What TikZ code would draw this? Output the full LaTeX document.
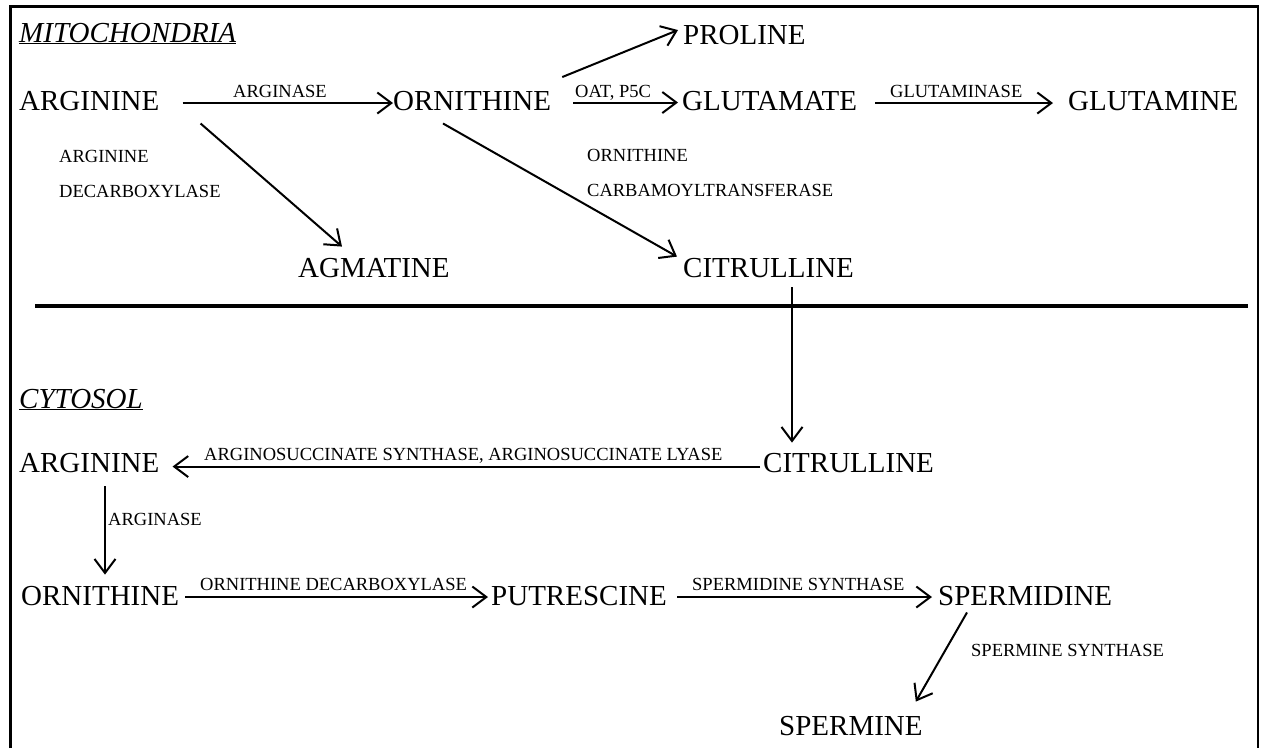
\documentclass[tikz,border=0pt]{standalone}
\usepackage{fontspec}
\setmainfont{Liberation Serif}
\usetikzlibrary{arrows.meta,calc}
\newcommand{\metfont}{\fontsize{29}{35}\selectfont}
\newcommand{\enzfont}{\fontsize{18.5}{35}\selectfont}
\newcommand{\metabolite}[4]{\node[met] (#1) at (#2,#3) {#4};}
\newcommand{\enzyme}[4]{\node[enz] (#1) at (#2,#3) {#4};}
\tikzset{
  met/.style={inner sep=0pt, anchor=base west, font=\metfont},
  enz/.style={inner sep=0pt, anchor=base west, font=\enzfont, align=left},
  rxn/.style={line width=2pt, -{Straight Barb[length=14pt,width=21pt,line width=2pt]}}
}
\begin{document}
\begin{tikzpicture}[x=1pt,y=-1pt]
\useasboundingbox (0,0) rectangle (1262,748);
% frame and divider
\draw[line width=3.5pt] (10.5,748)--(10.5,6.5)--(1259,6.5);
\draw[line width=2pt] (1258,6.5)--(1258,748);
\draw[line width=4pt] (35,306)--(1248,306);
% compartments
\node[met, font=\metfont\itshape] (mito) at (19,42) {\underline{MITOCHONDRIA}};
\node[met, font=\metfont\itshape] (cyto) at (19,408) {\underline{CYTOSOL}};
% mitochondria
\metabolite{argM}{19}{110}{ARGININE}
\metabolite{ornM}{393}{110}{ORNITHINE}
\metabolite{proM}{683}{44}{PROLINE}
\metabolite{gluM}{682}{110}{GLUTAMATE}
\metabolite{glnM}{1068}{110}{GLUTAMINE}
\metabolite{agmM}{298}{277}{AGMATINE}
\metabolite{citM}{683}{277}{CITRULLINE}
% cytosol
\metabolite{citC}{763}{472}{CITRULLINE}
\metabolite{argC}{19}{472}{ARGININE}
\metabolite{ornC}{21}{605}{ORNITHINE}
\metabolite{putC}{491}{605}{PUTRESCINE}
\metabolite{spdC}{938}{605}{SPERMIDINE}
\metabolite{spmC}{779}{735}{SPERMINE}
% enzymes (two-line labels sit on their last baseline)
\enzyme{argaseM}{233}{97}{ARGINASE}
\enzyme{oat}{575}{97}{OAT, P5C}
\enzyme{glnase}{890}{97}{GLUTAMINASE}
\enzyme{adc}{59}{197}{ARGININE\\DECARBOXYLASE}
\enzyme{otc}{587}{196}{ORNITHINE\\CARBAMOYLTRANSFERASE}
\enzyme{assl}{204}{460}{ARGINOSUCCINATE SYNTHASE, ARGINOSUCCINATE LYASE}
\enzyme{argaseC}{108}{525}{ARGINASE}
\enzyme{odc}{200}{590}{ORNITHINE DECARBOXYLASE}
\enzyme{spds}{692}{590}{SPERMIDINE SYNTHASE}
\enzyme{spms}{971}{656}{SPERMINE SYNTHASE}
% reactions
\draw[rxn] ($(argM.east)+(23,2.5)$) -- ($(ornM.west)+(0,2.5)$);
\draw[rxn] ($(ornM.east)+(11,-23.5)$) -- ($(proM.west)+(-5,-4.5)$);
\draw[rxn] ($(ornM.east)+(22,2)$) -- ($(gluM.west)+(-4,2)$);
\draw[rxn] ($(gluM.east)+(18,2.5)$) -- ($(glnM.west)+(-15,2.5)$);
\draw[rxn] ($(argM.south east)+(41,13)$) -- ($(agmM.north west)+(44,-11)$);
\draw[rxn] ($(ornM.south west)+(50,13)$) -- ($(citM.north west)+(-6,-1)$);
\draw[rxn] ($(citM.south west)+(109,10)$) -- ($(citC.north west)+(29,-10)$);
\draw[rxn] ($(citC.west)+(-3,4)$) -- ($(argC.east)+(13,4)$);
\draw[rxn] ($(argC.south west)+(86,14)$) -- ($(ornC.north west)+(84,-11)$);
\draw[rxn] ($(ornC.east)+(6,1.5)$) -- ($(putC.west)+(-3,1.5)$);
\draw[rxn] ($(putC.east)+(10,1.5)$) -- ($(spdC.west)+(-6,1.5)$);
\draw[rxn] ($(spdC.south west)+(29,7)$) -- ($(spmC.north east)+(-7,-14)$);
\end{tikzpicture}
\end{document}
